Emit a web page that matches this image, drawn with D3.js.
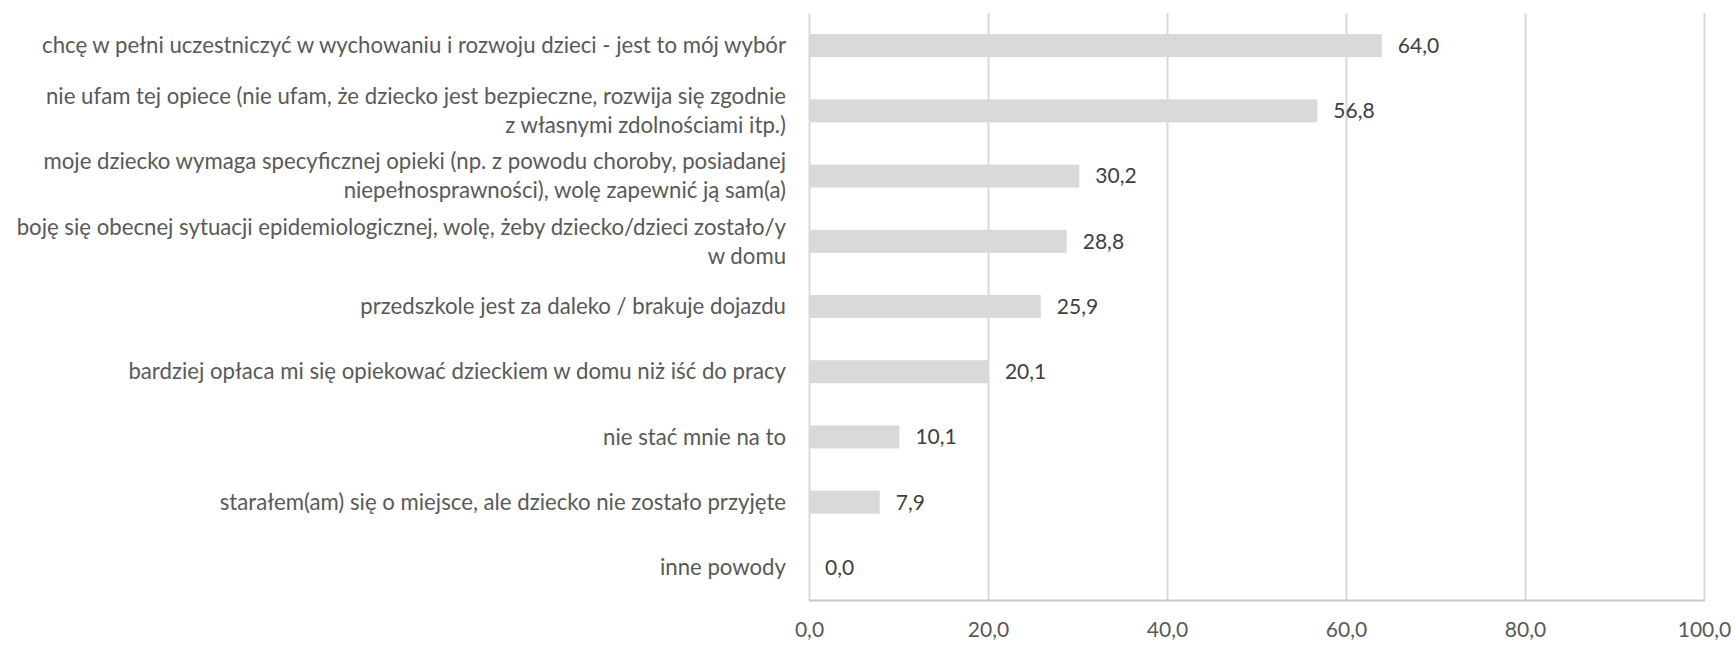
<!DOCTYPE html>
<html>
<head>
<meta charset="utf-8">
<script src="https://cdnjs.cloudflare.com/ajax/libs/d3/7.8.5/d3.min.js"></script>
<style>
  body { margin: 0; background: #fff; }
  svg { display: block; }
  text { font-family: Lato, "Open Sans", sans-serif; }
</style>
</head>
<body>
<div id="chart"></div>
<script>
// categories, each one split into the lines shown on the chart
var categories = [
   ["chcę w pełni uczestniczyć w wychowaniu i rozwoju dzieci - jest to mój wybór"],
   ["nie ufam tej opiece (nie ufam, że dziecko jest bezpieczne, rozwija się zgodnie", "z własnymi zdolnościami itp.)"],
   ["moje dziecko wymaga specyficznej opieki (np. z powodu choroby, posiadanej", "niepełnosprawności), wolę zapewnić ją sam(a)"],
   ["boję się obecnej sytuacji epidemiologicznej, wolę, żeby dziecko/dzieci zostało/y", "w domu"],
   ["przedszkole jest za daleko / brakuje dojazdu"],
   ["bardziej opłaca mi się opiekować dzieckiem w domu niż iść do pracy"],
   ["nie stać mnie na to"],
   ["starałem(am) się o miejsce, ale dziecko nie zostało przyjęte"],
   ["inne powody"]
];
var values = [64.0, 56.8, 30.2, 28.8, 25.9, 20.1, 10.1, 7.9, 0.0];
var xTicks = [0, 20, 40, 60, 80, 100];

var width = 1735, height = 645;
var margin = { top: 13, right: 31, bottom: 45, left: 809 };

var fmt = function(v) { return d3.format(".1f")(v).replace(".", ","); };

var svg = d3.select("#chart").append("svg")
   .attr("width", width)
   .attr("height", height);

var x = d3.scaleLinear()
   .domain([0, 100])
   .range([margin.left, width - margin.right]);

var y = d3.scaleBand()
   .domain(d3.range(categories.length))
   .range([margin.top, height - margin.bottom])
   .paddingInner(0.647)
   .paddingOuter(0.3235);

// gridlines
svg.append("g")
   .selectAll("line")
   .data(xTicks)
   .enter().append("line")
   .attr("x1", function(d) { return x(d) + 0.5; })
   .attr("x2", function(d) { return x(d) + 0.5; })
   .attr("y1", margin.top)
   .attr("y2", height - margin.bottom)
   .attr("stroke", "#d9d9d9")
   .attr("stroke-width", 2);

// bars
svg.append("g")
   .selectAll("rect")
   .data(values)
   .enter().append("rect")
   .attr("x", x(0) + 1)
   .attr("y", function(d, i) { return y(i); })
   .attr("width", function(d) { return Math.max(0, x(d) - x(0) - 1); })
   .attr("height", y.bandwidth())
   .attr("fill", "#d9d9d9");

// bottom axis line
svg.append("line")
   .attr("x1", x(0))
   .attr("x2", x(100) + 1)
   .attr("y1", height - margin.bottom + 0.5)
   .attr("y2", height - margin.bottom + 0.5)
   .attr("stroke", "#c8c8c8")
   .attr("stroke-width", 2);

// x axis labels
var xAxis = d3.axisBottom(x)
   .tickValues(xTicks)
   .tickSize(0)
   .tickPadding(22)
   .tickFormat(fmt);

svg.append("g")
   .attr("transform", "translate(0," + (height - margin.bottom) + ")")
   .call(xAxis)
   .call(function(g) { g.select(".domain").remove(); })
   .selectAll("text")
   .attr("fill", "#595959")
   .style("font-size", "21px")
   .style("font-family", "Lato, 'Open Sans', sans-serif");

// value labels
svg.append("g")
   .selectAll("text")
   .data(values)
   .enter().append("text")
   .attr("x", function(d) { return x(d) + 16; })
   .attr("y", function(d, i) { return y(i) + y.bandwidth() / 2; })
   .attr("dy", "0.35em")
   .attr("fill", "#404040")
   .style("font-size", "21px")
   .text(fmt);

// category labels
var lineH = 29;
var cat = svg.append("g")
   .selectAll("text")
   .data(categories)
   .enter().append("text")
   .attr("text-anchor", "end")
   .attr("fill", "#595959")
   .style("font-size", "22.2px")
   .attr("y", function(d, i) {
      return y(i) + y.bandwidth() / 2 - (d.length - 1) * lineH / 2;
   });

cat.selectAll("tspan")
   .data(function(d) { return d; })
   .enter().append("tspan")
   .attr("x", 786)
   .attr("dy", function(d, j) { return j === 0 ? "0.35em" : lineH; })
   .text(function(d) { return d; });
</script>
</body>
</html>
